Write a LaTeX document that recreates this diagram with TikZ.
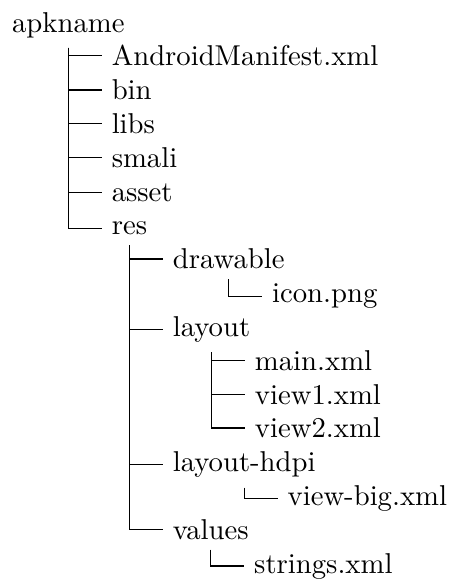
\documentclass[tikz,border=0pt]{standalone}
\usetikzlibrary{calc}
\tikzset{
  item/.style={anchor=base west, inner sep=3.33pt},
  conn/.style={draw=black, line width=0.4pt},
}
\newcommand\dtitem[4]{%
  \path (#1.south) ++(11.6pt,0) coordinate (tmp#2);
  \node[item] (#2) at (tmp#2 |- 0,-#3pt) {#4};
  \draw[conn] (#1.south) |- (#2.west);
}
\begin{document}
\begin{tikzpicture}
\useasboundingbox (0,0) rectangle (158.5pt,-202.1pt);
\node[item] (root) at (0.7pt,-11.2pt) {apkname};
\dtitem{root}{am}{22.98}{AndroidManifest.xml}
\dtitem{root}{bin}{34.76}{bin}
\dtitem{root}{libs}{46.54}{libs}
\dtitem{root}{smali}{58.32}{smali}
\dtitem{root}{asset}{70.10}{asset}
\dtitem{root}{res}{81.88}{res}
\dtitem{res}{drawable}{93.66}{drawable}
\dtitem{drawable}{icon}{105.44}{icon.png}
\dtitem{res}{layout}{117.22}{layout}
\dtitem{layout}{mainx}{129.00}{main.xml}
\dtitem{layout}{viewone}{140.78}{view1.xml}
\dtitem{layout}{viewtwo}{152.56}{view2.xml}
\dtitem{res}{hdpi}{164.34}{layout-hdpi}
\dtitem{hdpi}{viewbig}{176.12}{view-big.xml}
\dtitem{res}{values}{187.90}{values}
\dtitem{values}{strings}{199.68}{strings.xml}
\end{tikzpicture}
\end{document}
